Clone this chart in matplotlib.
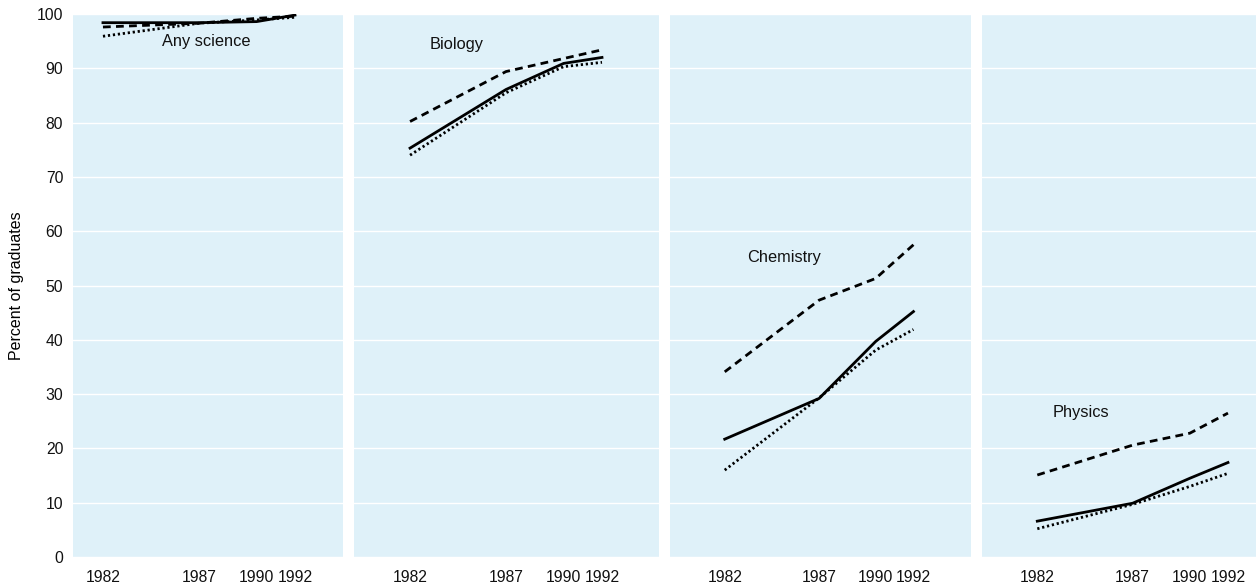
import matplotlib.pyplot as plt

plt.rcParams['font.family'] = ['Liberation Sans', 'DejaVu Sans']

years = [1982, 1987, 1990, 1992]
subjects = ["Any science", "Biology", "Chemistry", "Physics"]

# three series per subject: solid, dashed, dotted
solid = [
    [98.4, 98.4, 98.6, 99.8],
    [75.3, 86.1, 90.9, 92.0],
    [21.7, 29.2, 39.7, 45.2],
    [6.6, 9.9, 14.5, 17.4],
]
dashed = [
    [97.6, 98.3, 99.2, 99.6],
    [80.2, 89.4, 91.8, 93.4],
    [34.1, 47.3, 51.3, 57.5],
    [15.1, 20.6, 22.8, 26.5],
]
dotted = [
    [95.9, 98.3, 98.9, 99.4],
    [74.0, 85.5, 90.3, 91.1],
    [16.0, 29.3, 38.1, 41.9],
    [5.2, 9.7, 13.0, 15.4],
]

# label anchor (x in years, y in percent)
label_pos = [(1985.1, 95.0), (1983.0, 94.3), (1983.2, 55.2), (1982.8, 26.7)]

W, H = 1260, 586
fig = plt.figure(figsize=(W / 100, H / 100), dpi=100)

# panel pixel edges and x-limits
panels = [(73, 343, 1980.44, 1994.5),
          (354, 659, 1979.08, 1994.97),
          (670, 971, 1979.1, 1995.05),
          (982, 1256, 1979.1, 1993.47)]
top, bottom = 14, 557

for i, (l, r, x0, x1) in enumerate(panels):
    ax = fig.add_axes([l / W, 1 - bottom / H, (r - l) / W, (bottom - top) / H])
    ax.set_facecolor('#dff1f9')
    for s in ax.spines.values():
        s.set_visible(False)
    ax.set_xlim(x0, x1)
    ax.set_ylim(0, 100)
    ax.set_yticks(range(0, 101, 10))
    ax.set_xticks(years)
    ax.set_xticklabels([str(y) for y in years])
    ax.grid(axis='y', color='white', linewidth=1.0)
    ax.set_axisbelow(True)
    ax.tick_params(length=0, labelsize=11.3, colors='#111111', pad=7)
    ax.tick_params(axis='x', pad=9)
    if i > 0:
        ax.tick_params(labelleft=False)
    else:
        ax.set_ylabel("Percent of graduates", fontsize=11.5, labelpad=9)

    ax.plot(years, solid[i], color='black', linewidth=2.0, linestyle='-')
    ax.plot(years, dashed[i], color='black', linewidth=2.0, linestyle=(0, (2.8, 1.9)))
    ax.plot(years, dotted[i], color='black', linewidth=2.0, linestyle=(0, (0.8, 1.0)))
    ax.text(label_pos[i][0], label_pos[i][1], subjects[i], fontsize=11.8,
            ha='left', va='center', color='#111111')

fig.savefig("out.png", dpi=100)
